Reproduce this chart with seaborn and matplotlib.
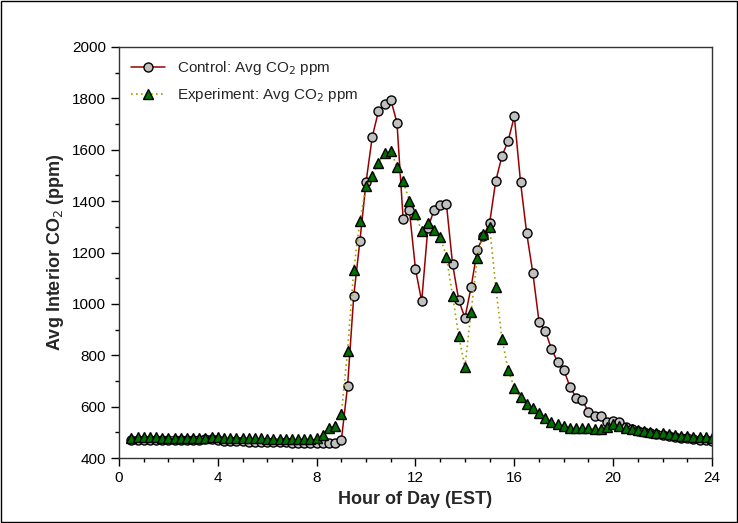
import numpy as np
import pandas as pd
import matplotlib
matplotlib.use("Agg")
import matplotlib.pyplot as plt
from matplotlib.ticker import MultipleLocator
import seaborn as sns

# --- Data (15-min averages) ---
hours = np.arange(0.5, 24.01, 0.25)

control = [
    470, 470, 470, 470, 470, 470, 470, 470, 470, 470, 470, 472, 474, 475,
    472, 468, 467, 466, 465, 464, 463, 462, 462, 461, 461, 461, 460, 460, 460, 460, 460,
    458, 458, 458, 470,
    680, 1030, 1245, 1475, 1650, 1750, 1780, 1795, 1705, 1330, 1365, 1135, 1010,
    1295, 1365, 1385, 1390, 1155, 1015, 945, 1065, 1210, 1265, 1315, 1480, 1575,
    1635, 1730, 1475, 1275, 1120, 930, 895, 825, 775, 743, 678, 635, 626, 579,
    565, 564, 541, 545, 541, 522,
    512, 506, 502, 498, 494, 490, 486, 482, 479, 476, 473, 471, 469, 468,
]

experiment = [
    478, 480, 480, 480, 480, 479, 479, 478, 478, 478, 478, 478, 479, 480,
    480, 479, 478, 478, 477, 477, 476, 476, 475, 475, 474, 474, 474, 474, 474, 474, 476,
    490, 515, 525, 570,
    818, 1132, 1324, 1460, 1496, 1550, 1589, 1597, 1534, 1479, 1402, 1350, 1282,
    1315, 1288, 1262, 1184, 1032, 876, 753, 970, 1178, 1273, 1301, 1065, 863,
    743, 673, 637, 610, 595, 575, 557, 541, 532, 526, 518, 518, 516, 515,
    513, 513, 522, 531, 526, 518,
    514, 510, 506, 502, 499, 496, 493, 490, 487, 485, 483, 481, 480, 478,
]

df = pd.DataFrame({"hour": hours, "control": control, "experiment": experiment})

sns.set_style("white")
plt.rcParams["font.family"] = ["Liberation Sans", "DejaVu Sans"]

fig = plt.figure(figsize=(7.38, 5.23), dpi=100)
ax = fig.add_axes([119 / 738, 1 - 458 / 523, (712 - 119) / 738, (458 - 47) / 523])

sns.lineplot(data=df, x="hour", y="control", ax=ax, color="#990000", linewidth=1.1,
             marker="o", markersize=6.5, markerfacecolor="#c0c0c0",
             markeredgecolor="black", markeredgewidth=1.0,
             label="Control: Avg CO$_2$ ppm")
sns.lineplot(data=df, x="hour", y="experiment", ax=ax, color="#a0a000", linewidth=1.2,
             linestyle=(0, (1, 2)),
             marker="^", markersize=6.5, markerfacecolor="#007000",
             markeredgecolor="black", markeredgewidth=1.0,
             label="Experiment: Avg CO$_2$ ppm")

ax.set_xlim(0, 24)
ax.set_ylim(400, 2000)
ax.xaxis.set_major_locator(MultipleLocator(4))
ax.xaxis.set_minor_locator(MultipleLocator(1))
ax.yaxis.set_major_locator(MultipleLocator(200))
ax.yaxis.set_minor_locator(MultipleLocator(100))
ax.tick_params(which="both", direction="out", bottom=True, left=True, top=False, right=False,
               labelsize=11, colors="black")
ax.tick_params(which="major", length=6, width=1)
ax.tick_params(which="minor", length=3, width=1)
for s in ax.spines.values():
    s.set_color("#333333")
    s.set_linewidth(1)

ax.set_xlabel("Hour of Day (EST)", fontsize=13, fontweight="bold")
ax.set_ylabel("Avg Interior CO$_2$ (ppm)", fontsize=13, fontweight="bold")

leg = ax.legend(loc="upper left", frameon=False, fontsize=11, handlelength=2.2,
                borderaxespad=0.4, labelspacing=0.6)

fig.patches.append(plt.Rectangle((0.002, 0.002), 0.996, 0.996, transform=fig.transFigure,
                                 fill=False, edgecolor="black", linewidth=1))

fig.savefig("out.png", dpi=100)
